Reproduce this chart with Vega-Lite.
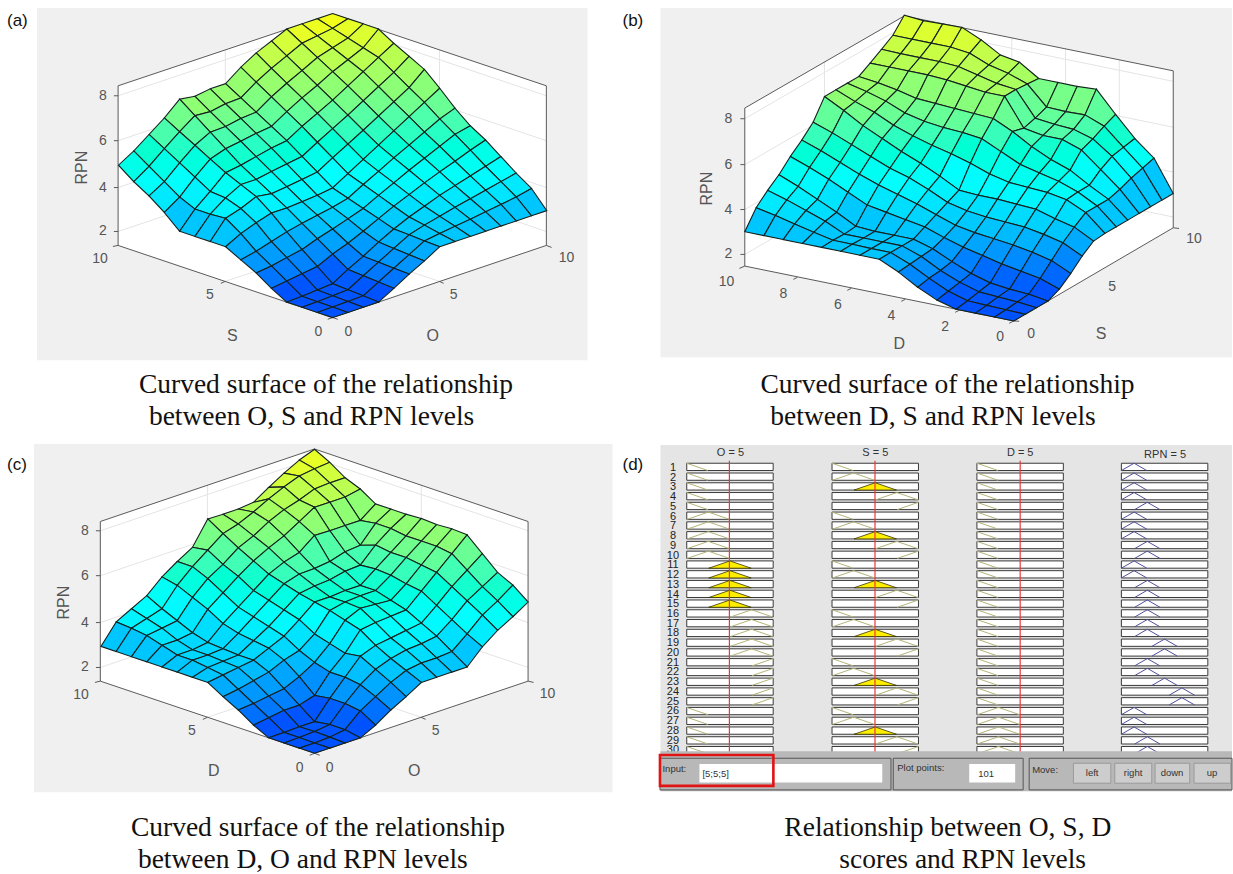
{"$schema":"https://vega.github.io/schema/vega-lite/v6.json","width":1233,"height":874,"padding":0,"autosize":{"type":"fit","contains":"padding"},"background":"white","config":{"view":{"stroke":null}},
"datasets":{
"surfA":[{"j":14,"z":[8.5,8.5,8.5,8.5,8.2,7.9,7.5,7.0,7.0,6.9,7.0,6.4,5.9,5.4,5.0]},{"j":13,"z":[8.5,8.3,8.2,8.1,7.77,7.45,7.07,6.6,6.57,6.45,6.5,6.02,5.5,4.95,4.5]},{"j":12,"z":[8.5,8.1,7.9,7.7,7.35,7.02,6.65,6.2,6.15,6.02,6.0,5.65,5.1,4.5,4.1]},{"j":11,"z":[8.5,7.9,7.6,7.3,6.93,6.6,6.22,5.8,5.72,5.6,5.5,5.27,4.7,4.05,3.6]},{"j":10,"z":[8.1,7.7,7.3,6.9,6.5,6.15,5.8,5.4,5.3,5.15,5.0,4.9,4.3,3.75,3.0]},{"j":9,"z":[7.75,7.27,6.87,6.47,6.07,5.7,5.33,4.93,4.83,4.72,4.6,4.6,4.24,3.75,3.0]},{"j":8,"z":[7.4,6.83,6.43,6.03,5.63,5.25,4.87,4.47,4.37,4.28,4.2,4.3,4.0,3.8,3.0]},{"j":7,"z":[6.8,6.4,6.0,5.6,5.2,4.8,4.4,4.0,3.9,3.85,3.8,3.8,3.6,3.35,3.0]},{"j":6,"z":[6.15,5.9,5.55,5.2,4.87,4.5,4.15,3.77,3.6,3.48,3.35,3.2,3.0,2.8,2.65]},{"j":5,"z":[5.6,5.45,5.15,4.85,4.55,4.22,3.9,3.55,3.32,3.1,2.9,2.65,2.52,2.38,2.3]},{"j":4,"z":[5.2,4.98,4.72,4.48,4.22,3.93,3.65,3.33,3.0,2.7,2.45,2.13,2.04,1.94,1.85]},{"j":3,"z":[4.7,4.5,4.3,4.1,3.9,3.65,3.4,3.1,2.75,2.35,2.0,1.6,1.55,1.5,1.47]},{"j":2,"z":[4.2,4.05,3.9,3.75,3.6,3.43,3.27,3.07,2.7,2.32,1.95,1.56,1.52,1.49,1.47]},{"j":1,"z":[3.75,3.6,3.5,3.4,3.3,3.22,3.13,3.03,2.65,2.28,1.9,1.52,1.5,1.48,1.47]},{"j":0,"z":[3,3,3,3,3,3,3,3,2.6,2.25,1.85,1.47,1.47,1.47,1.47]}],
"surfB":[{"j":14,"z":[8.5,8.43,8.46,8.48,8.1,7.6,7.45,6.9,6.9,6.9,6.95,6.0,5.1,4.4,3.0]},{"j":13,"z":[7.9,7.9,7.9,7.9,7.8,7.45,7.25,6.95,6.1,6.07,6.1,5.77,5.0,4.25,3.0]},{"j":12,"z":[7.57,7.55,7.55,7.55,7.5,7.3,7.1,7.0,5.9,5.8,5.75,5.5,4.9,4.1,3.0]},{"j":11,"z":[7.25,7.25,7.25,7.25,7.2,7.1,7.0,7.0,5.75,5.6,5.6,5.3,4.6,3.9,3.0]},{"j":10,"z":[6.95,6.85,6.7,6.5,6.45,6.4,6.35,6.3,5.9,5.4,5.0,4.7,4.2,3.75,3.0]},{"j":9,"z":[6.95,6.75,6.5,6.15,5.95,5.85,5.8,5.7,5.3,4.9,4.7,4.5,4.2,3.75,3.0]},{"j":8,"z":[6.95,6.6,6.3,5.9,5.6,5.35,5.15,4.9,4.6,4.4,4.35,4.3,4.15,3.75,3.0]},{"j":7,"z":[6.95,6.5,6.0,5.6,5.2,4.85,4.45,4.0,3.95,3.95,3.9,3.85,3.6,3.4,2.95]},{"j":6,"z":[6.1,5.8,5.45,5.1,4.75,4.5,4.15,3.75,3.55,3.45,3.4,3.35,3.2,3.0,2.58]},{"j":5,"z":[5.6,5.3,4.95,4.6,4.3,4.05,3.8,3.5,3.2,3.05,2.95,2.85,2.7,2.5,2.1]},{"j":4,"z":[5.17,4.85,4.5,4.1,3.7,3.55,3.4,3.25,2.95,2.7,2.5,2.3,2.15,2.0,1.7]},{"j":3,"z":[4.65,4.3,3.9,3.5,3.05,3,3,3,2.75,2.35,2,1.75,1.65,1.6,1.47]},{"j":2,"z":[4.25,4,3.7,3.4,3,3,3,3,2.7,2.25,1.9,1.65,1.6,1.55,1.47]},{"j":1,"z":[3.77,3.6,3.4,3.2,3.02,3.02,3,3,2.65,2.2,1.8,1.55,1.52,1.5,1.47]},{"j":0,"z":[3,3,3,3,3,3,3,3,2.6,2.1,1.7,1.47,1.47,1.47,1.47]}],
"surfC":[{"j":14,"z":[8.5,8.25,7.9,7.5,7.07,7,7,7.02,6,5.6,5.15,4.55,4.2,3.85,3]},{"j":13,"z":[8.15,8.09,8,7.75,7.45,7.1,6.8,6.6,6.1,5.6,5,4.2,4,3.8,3]},{"j":12,"z":[7.7,7.7,7.66,7.4,7.2,6.9,6.5,6.2,5.7,5.3,4.7,3.9,3.8,3.7,3]},{"j":11,"z":[7.43,7.3,7.3,7.31,6.9,6.5,6.2,5.85,5.4,4.9,4.4,3.6,3.5,3.5,3]},{"j":10,"z":[7,6.5,6.5,6.5,6.52,6,5.8,5.5,5,4.5,4,3.4,3.3,3.3,3]},{"j":9,"z":[7,6.6,5.86,5.8,5.6,5.52,5.5,5.3,4.8,4.3,3.8,3.35,3.3,3.3,3]},{"j":8,"z":[7,6.6,6.1,5.44,5.4,5.25,5.2,5.1,4.6,4.1,3.7,3.3,3.25,3.2,3]},{"j":7,"z":[7.04,6.5,6,5.5,5,5,4.95,4.95,4.4,3.9,3.6,3.3,3.2,3.1,3]},{"j":6,"z":[7,6.5,6,5.45,5,5,4.95,4.8,4,3.5,3.3,3,2.85,2.7,2.6]},{"j":5,"z":[7.04,6.5,5.9,5.3,4.8,4.85,4.9,4.6,3.8,3.2,2.8,2.5,2.4,2.3,2.24]},{"j":4,"z":[7,6.4,5.8,5.2,4.6,4.55,4.5,4.4,3.6,3,2.2,2,2,1.9,1.8]},{"j":3,"z":[6.4,5.9,5.4,4.8,4.25,4.15,4.05,3.95,3.7,3,2.3,1.5,1.5,1.48,1.47]},{"j":2,"z":[5.8,5.4,5,4.4,3.9,3.8,3.75,3.6,3.35,2.9,2.3,1.6,1.52,1.48,1.47]},{"j":1,"z":[5.47,5,4.6,4,3.45,3.4,3.4,3.3,3,2.6,2.2,1.6,1.5,1.47,1.47]},{"j":0,"z":[4.95,4.53,4.16,3.66,3,3,3,3,2.6,2.24,1.8,1.47,1.47,1.47,1.47]}],
"rules":[{"r":1,"m":[0,0,0,1.47]},{"r":2,"m":[0,2.5,0,1.47]},{"r":3,"m":[0,5,0,1.47]},{"r":4,"m":[0,7.5,0,1.47]},{"r":5,"m":[0,10,0,3]},{"r":6,"m":[2.5,0,0,1.47]},{"r":7,"m":[2.5,2.5,0,1.47]},{"r":8,"m":[2.5,5,0,1.47]},{"r":9,"m":[2.5,7.5,0,3]},{"r":10,"m":[2.5,10,0,3]},{"r":11,"m":[5,0,0,1.47]},{"r":12,"m":[5,2.5,0,1.47]},{"r":13,"m":[5,5,0,3]},{"r":14,"m":[5,7.5,0,3]},{"r":15,"m":[5,10,0,3]},{"r":16,"m":[7.5,0,0,3]},{"r":17,"m":[7.5,2.5,0,3]},{"r":18,"m":[7.5,5,0,3]},{"r":19,"m":[7.5,7.5,0,5]},{"r":20,"m":[7.5,10,0,5]},{"r":21,"m":[10,0,0,3]},{"r":22,"m":[10,2.5,0,3]},{"r":23,"m":[10,5,0,5]},{"r":24,"m":[10,7.5,0,7]},{"r":25,"m":[10,10,0,7]},{"r":26,"m":[0,0,2.5,1.47]},{"r":27,"m":[0,2.5,2.5,1.47]},{"r":28,"m":[0,5,2.5,1.47]},{"r":29,"m":[0,7.5,2.5,3]},{"r":30,"m":[0,10,2.5,3]}]
},
"encoding":{"x":{"field":"x","type":"quantitative","scale":{"domain":[0,1233],"nice":false,"zero":false},"axis":null},"y":{"field":"y","type":"quantitative","scale":{"domain":[874,0],"nice":false,"zero":false},"axis":null}},
"layer":[
{"data":{"values":[{"x":37,"x2":588,"y":8,"y2":361},{"x":661,"x2":1233,"y":8,"y2":358},{"x":34,"x2":613,"y":445,"y2":794}]},"mark":{"type":"rect","fill":"#f0f0f0"},"encoding":{"x2":{"field":"x2"},"y2":{"field":"y2"}}},
{"data":{"values":[{"x":661,"x2":1233,"y":446,"y2":756}]},"mark":{"type":"rect","fill":"#e5e5e5"},"encoding":{"x2":{"field":"x2"},"y2":{"field":"y2"}}},
{"data":{"values":[{"id":"a","o":0,"x":118.2,"y":86},{"id":"a","o":1,"x":332.9,"y":14},{"id":"a","o":2,"x":546.8,"y":86},{"id":"a","o":3,"x":546.8,"y":246},{"id":"a","o":4,"x":332.9,"y":318.3},{"id":"a","o":5,"x":118.2,"y":246},{"id":"b","o":0,"x":745.4,"y":108.3},{"id":"b","o":1,"x":905,"y":16},{"id":"b","o":2,"x":1174.2,"y":71},{"id":"b","o":3,"x":1174.2,"y":228.3},{"id":"b","o":4,"x":1014.6,"y":321.7},{"id":"b","o":5,"x":745.4,"y":266.7},{"id":"c","o":0,"x":100.4,"y":522.7},{"id":"c","o":1,"x":314.8,"y":450},{"id":"c","o":2,"x":528.5,"y":522.7},{"id":"c","o":3,"x":528.5,"y":682.7},{"id":"c","o":4,"x":314.8,"y":755},{"id":"c","o":5,"x":100.4,"y":682.7}]},"mark":{"type":"line","fill":"white","strokeWidth":0,"interpolate":"linear-closed"},"encoding":{"detail":{"field":"id"},"order":{"field":"o","type":"quantitative"}}},
{"data":{"values":[{"x":118.2,"y":96,"x2":332.9,"y2":23.7},{"x":332.9,"y":23.7,"x2":546.8,"y2":96},{"x":118.2,"y":141,"x2":332.9,"y2":68.7},{"x":332.9,"y":68.7,"x2":546.8,"y2":141},{"x":118.2,"y":188,"x2":332.9,"y2":115.7},{"x":332.9,"y":115.7,"x2":546.8,"y2":188},{"x":118.2,"y":232,"x2":332.9,"y2":159.7},{"x":332.9,"y":159.7,"x2":546.8,"y2":232},{"x":225.5,"y":50,"x2":225.5,"y2":210},{"x":439.8,"y":50,"x2":439.8,"y2":210},{"x":225.5,"y":282,"x2":439.8,"y2":210},{"x":439.8,"y":282,"x2":225.5,"y2":210},
{"x":745.4,"y":119,"x2":905,"y2":26.3},{"x":905,"y":26.3,"x2":1174.2,"y2":81.5},{"x":745.4,"y":165,"x2":905,"y2":72.3},{"x":905,"y":72.3,"x2":1174.2,"y2":127.5},{"x":745.4,"y":210,"x2":905,"y2":117.3},{"x":905,"y":117.3,"x2":1174.2,"y2":172.5},{"x":745.4,"y":255,"x2":905,"y2":162.3},{"x":905,"y":162.3,"x2":1174.2,"y2":217.5},{"x":825.2,"y":62,"x2":825.2,"y2":220},{"x":958.8,"y":27,"x2":958.8,"y2":184},{"x":1012.6,"y":38,"x2":1012.6,"y2":195},{"x":1066.4,"y":49,"x2":1066.4,"y2":206},{"x":1120.2,"y":60,"x2":1120.2,"y2":217},
{"x":100.4,"y":532,"x2":314.8,"y2":459.3},{"x":314.8,"y":459.3,"x2":528.5,"y2":532},{"x":100.4,"y":577,"x2":314.8,"y2":504.3},{"x":314.8,"y":504.3,"x2":528.5,"y2":577},{"x":100.4,"y":624,"x2":314.8,"y2":551.3},{"x":314.8,"y":551.3,"x2":528.5,"y2":624},{"x":100.4,"y":669,"x2":314.8,"y2":596.3},{"x":314.8,"y":596.3,"x2":528.5,"y2":669},{"x":207.6,"y":486,"x2":207.6,"y2":646},{"x":421.6,"y":486,"x2":421.6,"y2":646},{"x":207.6,"y":719,"x2":421.6,"y2":646},{"x":421.6,"y":719,"x2":207.6,"y2":646}]},"mark":{"type":"rule","stroke":"#e4e4e4","strokeWidth":1},"encoding":{"x2":{"field":"x2"},"y2":{"field":"y2"}}},
{"data":{"values":[{"x":118.2,"y":86,"x2":332.9,"y2":14},{"x":332.9,"y":14,"x2":546.8,"y2":86},{"x":546.8,"y":86,"x2":546.8,"y2":246},{"x":118.2,"y":86,"x2":118.2,"y2":246},{"x":118.2,"y":246,"x2":332.9,"y2":318.3},{"x":332.9,"y":318.3,"x2":546.8,"y2":246},{"x":114,"y":96,"x2":118.2,"y2":96},{"x":114,"y":141,"x2":118.2,"y2":141},{"x":114,"y":188,"x2":118.2,"y2":188},{"x":114,"y":232,"x2":118.2,"y2":232},{"x":113,"y":247,"x2":118.2,"y2":246},{"x":552,"y":248,"x2":546.8,"y2":246},{"x":225.5,"y":282,"x2":221,"y2":284},{"x":439.8,"y":282,"x2":444,"y2":284},{"x":328,"y":320,"x2":332.9,"y2":318.3},{"x":338,"y":320,"x2":332.9,"y2":318.3},
{"x":745.4,"y":108.3,"x2":905,"y2":16},{"x":905,"y":16,"x2":1174.2,"y2":71},{"x":1174.2,"y":71,"x2":1174.2,"y2":228.3},{"x":745.4,"y":108.3,"x2":745.4,"y2":266.7},{"x":745.4,"y":266.7,"x2":1014.6,"y2":321.7},{"x":1014.6,"y":321.7,"x2":1174.2,"y2":228.3},{"x":741,"y":119,"x2":745.4,"y2":119},{"x":741,"y":165,"x2":745.4,"y2":165},{"x":741,"y":210,"x2":745.4,"y2":210},{"x":741,"y":255,"x2":745.4,"y2":255},{"x":740,"y":269,"x2":745.4,"y2":266.7},{"x":1180,"y":229,"x2":1174.2,"y2":228.3},{"x":1010,"y":324,"x2":1014.6,"y2":321.7},{"x":1020,"y":322,"x2":1014.6,"y2":321.7},{"x":794,"y":280,"x2":798,"y2":278},{"x":848,"y":291,"x2":852,"y2":289},{"x":902,"y":302,"x2":906,"y2":300},{"x":956,"y":313,"x2":960,"y2":311},
{"x":100.4,"y":522.7,"x2":314.8,"y2":450},{"x":314.8,"y":450,"x2":528.5,"y2":522.7},{"x":528.5,"y":522.7,"x2":528.5,"y2":682.7},{"x":100.4,"y":522.7,"x2":100.4,"y2":682.7},{"x":100.4,"y":682.7,"x2":314.8,"y2":755},{"x":314.8,"y":755,"x2":528.5,"y2":682.7},{"x":96,"y":532,"x2":100.4,"y2":532},{"x":96,"y":577,"x2":100.4,"y2":577},{"x":96,"y":624,"x2":100.4,"y2":624},{"x":96,"y":669,"x2":100.4,"y2":669},{"x":95,"y":684,"x2":100.4,"y2":682.7},{"x":534,"y":684,"x2":528.5,"y2":682.7},{"x":207.6,"y":719,"x2":203,"y2":721},{"x":421.6,"y":719,"x2":426,"y2":721},{"x":310,"y":757,"x2":314.8,"y2":755},{"x":320,"y":757,"x2":314.8,"y2":755}]},"mark":{"type":"rule","stroke":"#5a5a5a","strokeWidth":1},"encoding":{"x2":{"field":"x2"},"y2":{"field":"y2"}}},
{"data":{"name":"surfA"},"transform":[{"calculate":"[14,13,12,11,10,9,8,7,6,5,4,3,2,1,0]","as":"i"},{"flatten":["z","i"]},{"calculate":"[0,1,2,3]","as":"k"},{"flatten":["k"]},{"calculate":"datum.i-((datum.k==1||datum.k==2)?1:0)","as":"ci"},{"calculate":"datum.j-(datum.k>=2?1:0)","as":"cj"},{"filter":"datum.ci>=0&&datum.ci<14&&datum.cj>=0&&datum.cj<14"},{"calculate":"datum.ci*100+datum.cj","as":"cell"},{"calculate":"datum.k==0?datum.z:null","as":"cz"},{"joinaggregate":[{"op":"max","field":"cz","as":"c"}],"groupby":["cell"]},{"calculate":"332.9+15.31*(datum.i-datum.j)","as":"x"},{"calculate":"318.3-5.167*(datum.i+datum.j)-22.77*(datum.z-1.47)","as":"y"}],"mark":{"type":"line","stroke":"#14221f","strokeWidth":1.1,"interpolate":"linear-closed"},"encoding":{"detail":{"field":"cell","type":"nominal"},"order":{"field":"k","type":"quantitative"},"fill":{"field":"c","type":"quantitative","scale":{"domain":[1.47,4,6.2,8.5],"range":["#0052ff","#00ffff","#80ff80","#ffff00"]},"legend":null}}},
{"data":{"name":"surfB"},"transform":[{"calculate":"[14,13,12,11,10,9,8,7,6,5,4,3,2,1,0]","as":"i"},{"flatten":["z","i"]},{"calculate":"[0,1,2,3]","as":"k"},{"flatten":["k"]},{"calculate":"datum.i-((datum.k==1||datum.k==2)?1:0)","as":"ci"},{"calculate":"datum.j-(datum.k>=2?1:0)","as":"cj"},{"filter":"datum.ci>=0&&datum.ci<14&&datum.cj>=0&&datum.cj<14"},{"calculate":"datum.ci*100+datum.cj","as":"cell"},{"calculate":"datum.k==0?datum.z:null","as":"cz"},{"joinaggregate":[{"op":"max","field":"cz","as":"c"}],"groupby":["cell"]},{"calculate":"1014.6-19.23*datum.i+11.4*datum.j","as":"x"},{"calculate":"321.7-3.93*datum.i-6.667*datum.j-22.5*(datum.z-1.47)","as":"y"}],"mark":{"type":"line","stroke":"#14221f","strokeWidth":1.1,"interpolate":"linear-closed"},"encoding":{"detail":{"field":"cell","type":"nominal"},"order":{"field":"k","type":"quantitative"},"fill":{"field":"c","type":"quantitative","scale":{"domain":[1.47,4,6.2,8.5],"range":["#0052ff","#00ffff","#80ff80","#ffff00"]},"legend":null}}},
{"data":{"name":"surfC"},"transform":[{"calculate":"[14,13,12,11,10,9,8,7,6,5,4,3,2,1,0]","as":"i"},{"flatten":["z","i"]},{"calculate":"[0,1,2,3]","as":"k"},{"flatten":["k"]},{"calculate":"datum.i-((datum.k==1||datum.k==2)?1:0)","as":"ci"},{"calculate":"datum.j-(datum.k>=2?1:0)","as":"cj"},{"filter":"datum.ci>=0&&datum.ci<14&&datum.cj>=0&&datum.cj<14"},{"calculate":"datum.ci*100+datum.cj","as":"cell"},{"calculate":"datum.k==0?datum.z:null","as":"cz"},{"joinaggregate":[{"op":"max","field":"cz","as":"c"}],"groupby":["cell"]},{"calculate":"314.8+15.27*(datum.i-datum.j)","as":"x"},{"calculate":"755-5.167*(datum.i+datum.j)-22.77*(datum.z-1.47)","as":"y"}],"mark":{"type":"line","stroke":"#14221f","strokeWidth":1.1,"interpolate":"linear-closed"},"encoding":{"detail":{"field":"cell","type":"nominal"},"order":{"field":"k","type":"quantitative"},"fill":{"field":"c","type":"quantitative","scale":{"domain":[1.47,4,6.2,8.5],"range":["#0052ff","#00ffff","#80ff80","#ffff00"]},"legend":null}}},
{"data":{"values":[{"x":103,"y":96,"t":"8"},{"x":103,"y":141,"t":"6"},{"x":103,"y":188,"t":"4"},{"x":103,"y":232,"t":"2"},{"x":100,"y":260,"t":"10"},{"x":210,"y":296,"t":"5"},{"x":318.6,"y":333,"t":"0"},{"x":348.6,"y":333,"t":"0"},{"x":454,"y":296,"t":"5"},{"x":567,"y":259,"t":"10"},{"x":729,"y":119,"t":"8"},{"x":729,"y":165,"t":"6"},{"x":729,"y":210,"t":"4"},{"x":729,"y":255,"t":"2"},{"x":727,"y":283,"t":"10"},{"x":784,"y":295,"t":"8"},{"x":838.5,"y":306,"t":"6"},{"x":892,"y":317,"t":"4"},{"x":946,"y":328,"t":"2"},{"x":1001,"y":338,"t":"0"},{"x":1032,"y":335,"t":"0"},{"x":1113,"y":288,"t":"5"},{"x":1195,"y":240,"t":"10"},{"x":85,"y":532,"t":"8"},{"x":85,"y":577,"t":"6"},{"x":85,"y":624,"t":"4"},{"x":85,"y":669,"t":"2"},{"x":81,"y":697,"t":"10"},{"x":192,"y":733,"t":"5"},{"x":300,"y":770,"t":"0"},{"x":330,"y":770,"t":"0"},{"x":436,"y":733,"t":"5"},{"x":548,"y":696,"t":"10"}]},"mark":{"type":"text","font":"Liberation Sans","fontSize":14,"fill":"#555555","align":"center","baseline":"middle"},"encoding":{"text":{"field":"t"}}},
{"data":{"values":[{"x":232.5,"y":337,"t":"S"},{"x":433,"y":337,"t":"O"},{"x":900,"y":345,"t":"D"},{"x":1102,"y":335,"t":"S"},{"x":214,"y":773,"t":"D"},{"x":414.5,"y":773,"t":"O"}]},"mark":{"type":"text","font":"Liberation Sans","fontSize":16,"fill":"#555555","align":"center","baseline":"middle"},"encoding":{"text":{"field":"t"}}},
{"data":{"values":[{"x":82.5,"y":168,"t":"RPN"},{"x":708,"y":189,"t":"RPN"},{"x":64,"y":604,"t":"RPN"}]},"mark":{"type":"text","font":"Liberation Sans","fontSize":16,"fill":"#555555","align":"center","baseline":"middle","angle":270},"encoding":{"text":{"field":"t"}}},
{"data":{"values":[{"x":7,"y":21,"t":"(a)"},{"x":623,"y":21,"t":"(b)"},{"x":7,"y":466,"t":"(c)"},{"x":623,"y":466,"t":"(d)"}]},"mark":{"type":"text","font":"Liberation Sans","fontSize":17,"fill":"#111111","align":"left","baseline":"middle"},"encoding":{"text":{"field":"t"}}},
{"data":{"values":[{"x":139,"y":386,"t":"Curved surface of the relationship"},{"x":149,"y":418,"t":"between O, S and RPN levels"},{"x":761,"y":386,"t":"Curved surface of the relationship"},{"x":771,"y":418,"t":"between D, S and RPN levels"},{"x":131,"y":830,"t":"Curved surface of the relationship"},{"x":138,"y":862,"t":"between D, O and RPN levels"},{"x":785,"y":830,"t":"Relationship between O, S, D"},{"x":840,"y":862,"t":"scores and RPN levels"}]},"mark":{"type":"text","font":"Liberation Serif","fontSize":27.5,"fill":"#111111","align":"left","baseline":"middle"},"encoding":{"text":{"field":"t"}}},
{"data":{"name":"rules"},"transform":[{"calculate":"[0,1,2,3]","as":"c"},{"flatten":["m","c"]},{"calculate":"[687.3,832.7,977.7,1122.3][datum.c]","as":"x"},{"calculate":"datum.x+86.5","as":"x2"},{"calculate":"464.3+9.79*(datum.r-1)","as":"y"},{"calculate":"datum.y+7.3","as":"y2"}],"mark":{"type":"rect","fill":"white","stroke":"#3a3a3a","strokeWidth":1},"encoding":{"x2":{"field":"x2"},"y2":{"field":"y2"}}},
{"data":{"name":"rules"},"transform":[{"calculate":"[0,1,2,3]","as":"c"},{"flatten":["m","c"]},{"filter":"!(datum.c<3&&datum.m==5)"},{"calculate":"[-1,0,1]","as":"t"},{"flatten":["t"]},{"calculate":"datum.m+datum.t*(datum.c==3?1.47:2.45)","as":"v"},{"filter":"datum.v>=0&&datum.v<=10"},{"calculate":"[687.3,832.7,977.7,1122.3][datum.c]+8.65*datum.v","as":"x"},{"calculate":"464.3+9.79*(datum.r-1)+7.3*abs(datum.t)","as":"y"},{"calculate":"datum.r*10+datum.c","as":"id"},{"calculate":"datum.c==3?'out':'in'","as":"kind"}],"mark":{"type":"line","strokeWidth":1},"encoding":{"detail":{"field":"id","type":"nominal"},"order":{"field":"t","type":"quantitative"},"color":{"field":"kind","type":"nominal","scale":{"domain":["in","out"],"range":["#b4b47a","#50509a"]},"legend":null}}},
{"data":{"name":"rules"},"transform":[{"calculate":"[0,1,2,3]","as":"c"},{"flatten":["m","c"]},{"filter":"datum.c<3&&datum.m==5"},{"calculate":"[-1,0,1]","as":"t"},{"flatten":["t"]},{"calculate":"[687.3,832.7,977.7,1122.3][datum.c]+8.65*(datum.m+datum.t*2.45)","as":"x"},{"calculate":"464.3+9.79*(datum.r-1)+7.3*abs(datum.t)","as":"y"},{"calculate":"datum.r*10+datum.c","as":"id"}],"mark":{"type":"line","fill":"#ffee00","stroke":"#333300","strokeWidth":0.8,"interpolate":"linear-closed"},"encoding":{"detail":{"field":"id","type":"nominal"},"order":{"field":"t","type":"quantitative"}}},
{"data":{"values":[{"x":730,"y":461.7,"y2":755},{"x":875.7,"y":461.7,"y2":755},{"x":1021,"y":461.7,"y2":755}]},"mark":{"type":"rule","stroke":"#e8383c","strokeWidth":1.2},"encoding":{"y2":{"field":"y2"}}},
{"data":{"values":[{"x":731,"y":454,"t":"O = 5"},{"x":876,"y":454,"t":"S = 5"},{"x":1021,"y":454,"t":"D = 5"},{"x":1166,"y":456,"t":"RPN = 5"}]},"mark":{"type":"text","font":"Liberation Sans","fontSize":11,"fill":"#333333","align":"center","baseline":"middle"},"encoding":{"text":{"field":"t"}}},
{"data":{"name":"rules"},"transform":[{"calculate":"673.5","as":"x"},{"calculate":"469+9.76*(datum.r-1)","as":"y"}],"mark":{"type":"text","font":"Liberation Sans","fontSize":11,"fill":"#222222","align":"center","baseline":"middle"},"encoding":{"text":{"field":"r","type":"nominal"}}},
{"data":{"values":[{"x":661,"x2":1233,"y":753,"y2":793}]},"mark":{"type":"rect","fill":"#b8b8b8"},"encoding":{"x2":{"field":"x2"},"y2":{"field":"y2"}}},
{"data":{"values":[{"x":660.5,"x2":891.7,"y":760,"y2":791.7},{"x":894,"x2":1024,"y":760,"y2":791.7},{"x":1030,"x2":1233,"y":760,"y2":791.7}]},"mark":{"type":"rect","fill":"#b8b8b8","stroke":"#555555","strokeWidth":1},"encoding":{"x2":{"field":"x2"},"y2":{"field":"y2"}}},
{"data":{"values":[{"x":700,"x2":883,"y":765.7,"y2":784.3},{"x":970,"x2":1016,"y":765.7,"y2":784.3}]},"mark":{"type":"rect","fill":"white"},"encoding":{"x2":{"field":"x2"},"y2":{"field":"y2"}}},
{"data":{"values":[{"x":1074.3,"x2":1111.7,"y":765,"y2":785},{"x":1115.7,"x2":1152.7,"y":765,"y2":785},{"x":1156,"x2":1190.7,"y":765,"y2":785},{"x":1195,"x2":1231.7,"y":765,"y2":785}]},"mark":{"type":"rect","fill":"#cdcdcd","stroke":"#9a9a9a","strokeWidth":1},"encoding":{"x2":{"field":"x2"},"y2":{"field":"y2"}}},
{"data":{"values":[{"x":660.5,"x2":774,"y":756.7,"y2":787.7}]},"mark":{"type":"rect","fillOpacity":0,"stroke":"#e01414","strokeWidth":2.6},"encoding":{"x2":{"field":"x2"},"y2":{"field":"y2"}}},
{"data":{"values":[{"x":663,"y":771,"t":"Input:"},{"x":703,"y":776,"t":"[5;5;5]"},{"x":898,"y":770,"t":"Plot points:"},{"x":979,"y":776,"t":"101"},{"x":1033,"y":772,"t":"Move:"}]},"mark":{"type":"text","font":"Liberation Sans","fontSize":9.5,"fill":"#333333","align":"left","baseline":"middle"},"encoding":{"text":{"field":"t"}}},
{"data":{"values":[{"x":1093,"y":775,"t":"left"},{"x":1134,"y":775,"t":"right"},{"x":1173,"y":775,"t":"down"},{"x":1213,"y":775,"t":"up"}]},"mark":{"type":"text","font":"Liberation Sans","fontSize":9.5,"fill":"#333333","align":"center","baseline":"middle"},"encoding":{"text":{"field":"t"}}}
]}
